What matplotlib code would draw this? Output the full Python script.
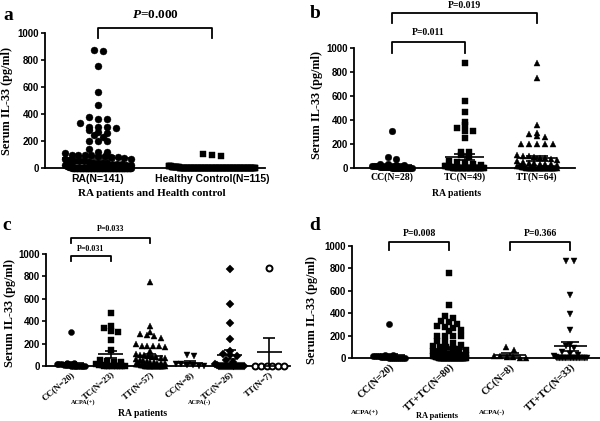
import numpy as np
import matplotlib
matplotlib.use("Agg")
import matplotlib.pyplot as plt

SANS = "Liberation Sans"
SERIF = "Liberation Serif"

# panel a
a_groups = ["RA(N=141)", "Healthy Control(N=115)"]
a_ra = [875, 870, 755, 560, 470, 380, 365, 365, 335, 305, 305, 300, 305, 285,
        270, 260, 245, 230, 200, 200, 200, 140, 120, 115, 110, 100, 100, 100,
        100, 90, 90, 85, 80, 75, 70, 65, 60, 55, 50, 50, 45, 40, 40, 35, 35,
        30, 30, 30, 25, 25, 20, 20, 20, 15, 15, 15, 10, 10, 10, 10] + [0] * 81
a_hc = [105, 100, 90, 15, 15, 12, 12, 10, 10, 10, 8, 8, 8, 5, 5, 5, 5] + [0] * 98

# panel b
b_groups = ["CC(N=28)", "TC(N=49)", "TT(N=64)"]
b_cc = [305, 90, 75, 30, 30, 25, 25, 20, 20, 15, 15, 10, 10, 10, 5, 5, 5] + [0] * 11
b_tc = [875, 560, 470, 385, 360, 335, 305, 305, 250, 135, 135, 110, 90, 60, 50,
        40, 30, 25, 20, 15, 10, 10, 5, 5] + [0] * 25
b_tt = [875, 750, 360, 295, 285, 270, 260, 200, 200, 200, 200, 200, 110, 100,
        100, 90, 85, 80, 75, 70, 60, 50, 45, 40, 35, 30, 30, 25, 20, 20, 15,
        15, 10, 10, 5, 5] + [0] * 28

# panel c
c_groups = ["CC(N=20)", "TC(N=23)", "TT(N=57)", "CC(N=8)", "TC(N=26)", "TT(N=7)"]
c_cc_pos = [305, 30, 25, 20, 20, 15, 15, 10, 10, 5, 5] + [0] * 9
c_tc_pos = [475, 360, 335, 310, 305, 235, 140, 50, 45, 40, 35, 20, 10, 5] + [0] * 9
c_tt_pos = [750, 360, 300, 285, 280, 270, 250, 200, 180, 180, 180, 175, 170, 130,
            110, 100, 100, 90, 80, 80, 75, 70, 60, 50, 50, 45, 40, 35, 30, 30,
            25, 20, 20, 15, 15, 10, 10, 5, 5] + [0] * 18
c_cc_neg = [95, 85, 20, 15, 10, 5, 0, 0]
c_tc_neg = [870, 555, 385, 245, 130, 110, 100, 90, 50, 40, 20, 10] + [0] * 14
c_tt_neg = [875, 0, 0, 0, 0, 0, 0]

# panel d
d_groups = ["CC(N=20)", "TT+TC(N=80)", "CC(N=8)", "TT+TC(N=33)"]
d_cc_pos = c_cc_pos
d_tttc_pos = [755, 470, 375, 355, 330, 320, 300, 290, 280, 270, 250, 240, 200, 200,
              200, 200, 150, 145, 130, 120, 110, 100, 100, 90, 80, 70, 60, 50, 50,
              45, 40, 40, 35, 30, 30, 25, 20, 20, 15, 15, 10, 10, 5, 5] + [0] * 36
d_cc_neg = [95, 75, 20, 15, 10, 5, 0, 0]
d_tttc_neg = [870, 870, 565, 390, 250, 120, 110, 90, 50, 40, 30, 20, 10] + [0] * 20

W, H = 600, 421
fig = plt.figure(figsize=(W / 100, H / 100), dpi=100)


def px_axes(left, right, top, bottom):
    return fig.add_axes([left / W, 1 - bottom / H, (right - left) / W, (bottom - top) / H])


def ftext(x, y, s, **kw):
    fig.text(x / W, 1 - y / H, s, ha="center", va="center", **kw)


def swarm(vals, binw, sp, hw):
    vals = np.sort(np.asarray(vals, float))[::-1]
    rows = {}
    for v in vals:
        rows.setdefault(int(round(v / binw)), []).append(v)
    xs, ys = [], []
    for r in rows.values():
        n = len(r)
        off = (np.arange(n) - (n - 1) / 2) * sp
        if n > 1 and off.max() > hw:
            off = off * hw / off.max()
        xs += list(off)
        ys += r
    return np.array(xs), np.array(ys)


def setup(ax, xlim, ytick_size=7):
    ax.set_xlim(*xlim)
    ax.set_ylim(0, 1000)
    ax.set_yticks(range(0, 1001, 200))
    for s in ["top", "right"]:
        ax.spines[s].set_visible(False)
    for s in ["left", "bottom"]:
        ax.spines[s].set_linewidth(1.3)
    ax.tick_params(axis="y", length=3, width=1.2, pad=1.5, labelsize=ytick_size)
    ax.tick_params(axis="x", length=0)
    for lab in ax.get_yticklabels():
        lab.set_fontfamily(SANS)
        lab.set_fontweight("bold")
    ax.patch.set_alpha(0)


def plot_group(ax, x, vals, marker, sp_px, hw, ms=4.5, open_=False, mean_hw=0.3,
               cap_hw=0.15, binw=45):
    ppu = ax.bbox.width / (ax.get_xlim()[1] - ax.get_xlim()[0])
    xs, ys = swarm(vals, binw, sp_px / ppu, hw)
    ax.plot(x + xs, ys, linestyle="none", marker=marker, ms=ms,
            mfc="white" if open_ else "black", mec="black",
            mew=1.4 if open_ else 0.3, clip_on=False, zorder=3)
    v = np.asarray(vals, float)
    m = v.mean()
    se = v.std(ddof=1) / np.sqrt(len(v))
    kw = dict(color="black", lw=1.2, zorder=4, clip_on=False)
    ax.hlines(m, x - mean_hw, x + mean_hw, **kw)
    ax.vlines(x, max(m - se, 0), m + se, **kw)
    ax.hlines([max(m - se, 0), m + se], x - cap_hw, x + cap_hw, **kw)


def bracket(ax, x0, x1, ytop, ybot, text, ty, size, italic_p=False):
    ax.plot([x0, x0, x1, x1], [ybot, ytop, ytop, ybot], color="black", lw=1.3, clip_on=False)
    if italic_p:
        ax.text((x0 + x1) / 2, ty, r"$\mathbfit{P}$" + "=" + text, ha="center", va="center",
                fontsize=size, fontfamily=SERIF, fontweight="bold")
    else:
        ax.text((x0 + x1) / 2, ty, "P=" + text, ha="center", va="center",
                fontsize=size, fontfamily=SERIF, fontweight="bold")


plt.rcParams["mathtext.fontset"] = "custom"
plt.rcParams["mathtext.bfit"] = "Liberation Serif:bold:italic"

# ---- a
ax = px_axes(45, 265, 33, 168)
setup(ax, (-0.465, 1.465))
plot_group(ax, 0, a_ra, "o", 9, 0.29, ms=5, mean_hw=0.32)
plot_group(ax, 1, a_hc, "s", 9, 0.38, ms=5, mean_hw=0.32)
ax.set_xticks([0, 1])
ax.set_xticklabels(a_groups, fontfamily=SANS, fontweight="bold", fontsize=7.5)
ax.tick_params(axis="x", pad=4)
bracket(ax, 0, 1, 1037, 963, "0.000", 1133, 9.5, italic_p=True)
ftext(8, 15, "a", fontsize=14, fontfamily=SERIF, fontweight="bold")
ftext(7, 101, "Serum IL-33 (pg/ml)", rotation=90, fontsize=8.8, fontfamily=SERIF, fontweight="bold")
ftext(152, 193, "RA patients and Health control", fontsize=8, fontfamily=SERIF, fontweight="bold")

# ---- b
ax = px_axes(354, 575, 48, 168)
setup(ax, (-0.524, 2.524))
plot_group(ax, 0, b_cc, "o", 8, 0.27, ms=4.8, mean_hw=0.27)
plot_group(ax, 1, b_tc, "s", 8, 0.27, ms=4.8, mean_hw=0.27)
plot_group(ax, 2, b_tt, "^", 8, 0.27, ms=4.8, mean_hw=0.27)
ax.set_xticks([0, 1, 2])
ax.set_xticklabels(b_groups, fontfamily=SERIF, fontweight="bold", fontsize=7)
ax.tick_params(axis="x", pad=3)
bracket(ax, 0, 1, 1050, 958, "0.011", 1133, 7)
bracket(ax, 0, 2, 1292, 1208, "0.019", 1358, 7)
ftext(315, 13, "b", fontsize=14, fontfamily=SERIF, fontweight="bold")
ftext(317, 105, "Serum IL-33 (pg/ml)", rotation=90, fontsize=8.8, fontfamily=SERIF, fontweight="bold")
ftext(457, 193, "RA patients", fontsize=7, fontfamily=SERIF, fontweight="bold")

# ---- c
ax = px_axes(46, 290, 254, 366)
setup(ax, (-0.63, 5.52))
c_sets = [(c_cc_pos, "o", False), (c_tc_pos, "s", False), (c_tt_pos, "^", False),
          (c_cc_neg, "v", False), (c_tc_neg, "D", False), (c_tt_neg, "o", True)]
for i, (vals, mk, op) in enumerate(c_sets):
    plot_group(ax, i, vals, mk, 7, 0.36, ms=4.3 if mk != "D" else 3.6, open_=op,
               mean_hw=0.32, cap_hw=0.15)
ax.set_xticks(range(6))
ax.set_xticklabels(c_groups, fontfamily=SERIF, fontweight="bold", fontsize=6.5,
                   rotation=40, ha="right", va="top", rotation_mode="anchor")
ax.tick_params(axis="x", pad=3)
bracket(ax, 0, 1, 982, 938, "0.031", 1045, 5.8)
bracket(ax, 0, 2, 1143, 1098, "0.033", 1223, 5.8)
ftext(7, 225, "c", fontsize=14, fontfamily=SERIF, fontweight="bold")
ftext(10, 313, "Serum IL-33 (pg/ml)", rotation=90, fontsize=8.8, fontfamily=SERIF, fontweight="bold")
ftext(83, 402, "ACPA(+)", fontsize=4.5, fontfamily=SERIF, fontweight="bold")
ftext(200, 402, "ACPA(-)", fontsize=4.5, fontfamily=SERIF, fontweight="bold")
ftext(143, 414, "RA patients", fontsize=7, fontfamily=SERIF, fontweight="bold")

# ---- d
ax = px_axes(352, 600, 246, 358)
setup(ax, (-0.61, 3.49))
d_sets = [(d_cc_pos, "o"), (d_tttc_pos, "s"), (d_cc_neg, "^"), (d_tttc_neg, "v")]
for i, (vals, mk) in enumerate(d_sets):
    plot_group(ax, i, vals, mk, 8, 0.27, ms=4.5, mean_hw=0.27, cap_hw=0.15)
ax.set_xticks(range(4))
ax.set_xticklabels(d_groups, fontfamily=SERIF, fontweight="bold", fontsize=7.5,
                   rotation=43, ha="right", va="top", rotation_mode="anchor")
ax.tick_params(axis="x", pad=3)
bracket(ax, 0, 1, 1036, 964, "0.008", 1116, 7)
bracket(ax, 2, 3, 1036, 964, "0.366", 1116, 7)
ftext(315, 225, "d", fontsize=14, fontfamily=SERIF, fontweight="bold")
ftext(312, 310, "Serum IL-33 (pg/ml)", rotation=90, fontsize=8.8, fontfamily=SERIF, fontweight="bold")
ftext(365, 412, "ACPA(+)", fontsize=5, fontfamily=SERIF, fontweight="bold")
ftext(492, 412, "ACPA(-)", fontsize=5, fontfamily=SERIF, fontweight="bold")
ftext(437, 416, "RA patients", fontsize=6, fontfamily=SERIF, fontweight="bold")

fig.savefig("out.png", dpi=100)
